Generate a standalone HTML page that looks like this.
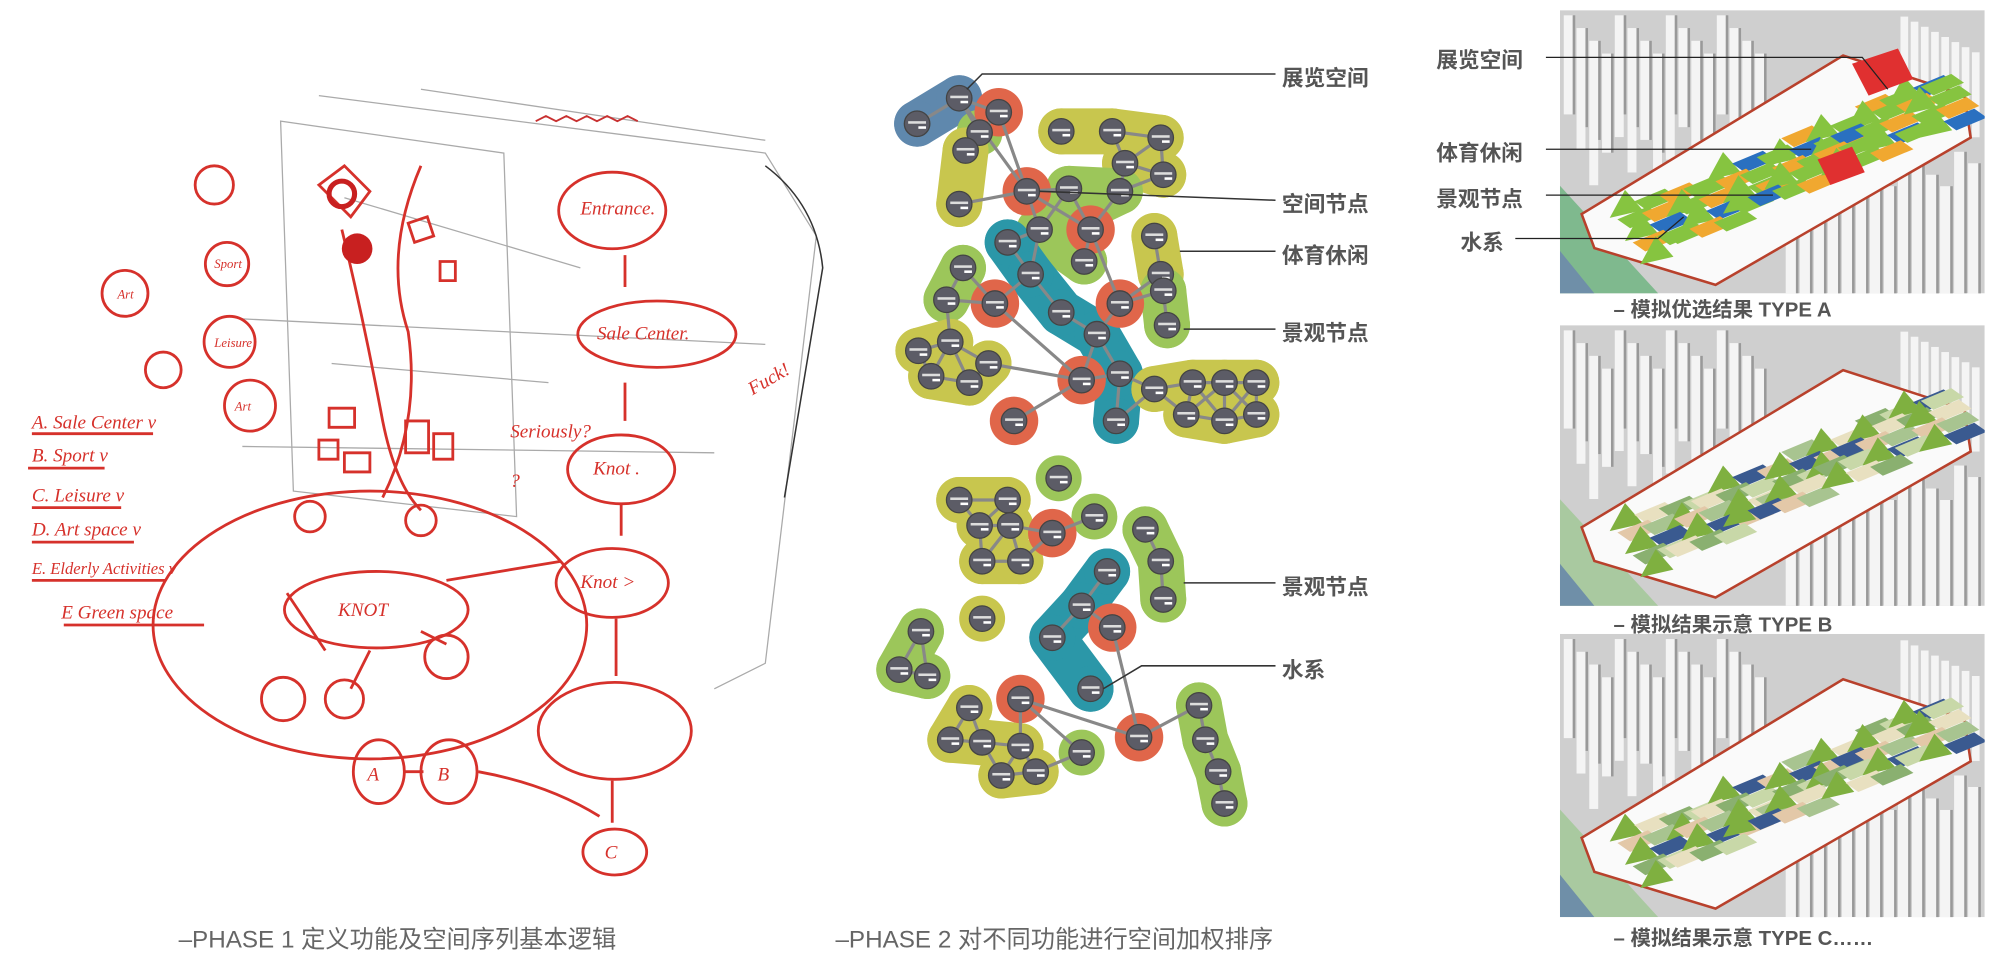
<!DOCTYPE html>
<html><head><meta charset="utf-8"><style>
html,body{margin:0;padding:0;background:#fff;overflow:hidden}
#w{width:1568px;height:752px;transform:scale(1.27551);transform-origin:0 0;position:relative;font-family:"Liberation Sans","Noto Sans CJK SC",sans-serif}
.t{position:absolute;color:#555;font-weight:bold;font-size:17px;white-space:nowrap}
.cap{position:absolute;color:#666;font-size:19px;white-space:nowrap}
svg{position:absolute;left:0;top:0}
</style></head><body><div id="w">
<svg width="1568" height="752" viewBox="0 0 1568 752">
<g fill="none" stroke="#aaa" stroke-width="1">
<path d="M220 95 L395 120 L405 405 L230 385 Z"/>
<path d="M250 75 L600 120 L640 185 L600 520 L560 540"/>
<path d="M330 70 L600 110"/>
<path d="M190 250 L600 270 M190 350 L560 355"/>
<path d="M270 155 L455 210 M260 285 L430 300"/>
</g>
<path d="M600 130 Q640 160 645 210 L615 390" stroke="#333" fill="none" stroke-width="1.2"/>
<g fill="none" stroke="#d6312b" stroke-width="2.2">
<ellipse cx="480" cy="165" rx="42" ry="30"/>
<ellipse cx="515" cy="262" rx="62" ry="26"/>
<ellipse cx="487" cy="368" rx="42" ry="27"/>
<ellipse cx="480" cy="457" rx="44" ry="27"/>
<ellipse cx="482" cy="573" rx="60" ry="38"/>
<ellipse cx="295" cy="478" rx="72" ry="30"/>
<ellipse cx="290" cy="490" rx="170" ry="105"/>
<circle cx="168" cy="145" r="15"/><circle cx="178" cy="207" r="17"/><circle cx="180" cy="268" r="20"/><circle cx="196" cy="318" r="20"/>
<circle cx="98" cy="230" r="18"/><circle cx="128" cy="290" r="14"/>
<circle cx="222" cy="548" r="17"/><circle cx="270" cy="548" r="15"/><circle cx="350" cy="515" r="17"/>
<circle cx="243" cy="405" r="12"/><circle cx="330" cy="408" r="12"/>
<ellipse cx="297" cy="605" rx="20" ry="25"/><ellipse cx="352" cy="605" rx="22" ry="25"/><ellipse cx="482" cy="668" rx="25" ry="18"/>
<path d="M317 605 L332 605 M375 605 Q430 615 470 640"/>
<path d="M268 180 Q285 250 300 330 Q310 380 330 400 M330 130 Q300 200 320 260 Q330 330 300 390"/>
<path d="M490 200 L490 225 M490 300 L490 330 M487 395 L487 420 M483 485 L483 530 M480 612 L480 645"/>
<path d="M250 145 l20 -15 l20 20 l-15 20 z M320 175 l15 -5 l5 15 l-15 5 z M345 205 l12 0 l0 15 l-12 0 z"/>
<path d="M258 320 h20 v15 h-20z M250 345 h15 v15 h-15z M270 355 h20 v15 h-20z M318 330 h18 v25 h-18z M340 340 h15 v20 h-15z"/>
<path d="M350 455 L440 440 M225 465 L255 510 M290 510 L275 540 M330 495 L350 505"/>
<path d="M25 340 h95 M22 367 h60 M25 398 h70 M25 425 h80 M25 455 h105 M50 490 h110"/>
</g>
<circle cx="280" cy="195" r="12" fill="#c82020"/>
<circle cx="268" cy="152" r="10" fill="none" stroke="#c82020" stroke-width="4"/>
<path d="M420 95 l8 -4 8 4 8 -4 8 4 8 -4 8 4 8 -4 8 4 8 -4 8 4" stroke="#c83030" fill="none" stroke-width="1.5"/>
<g font-family="Liberation Serif,serif" font-style="italic" fill="#d6312b" font-size="15">
<text x="455" y="168">Entrance.</text><text x="468" y="266">Sale Center.</text><text x="465" y="372">Knot .</text><text x="455" y="461">Knot &gt;</text>
<text x="265" y="483">KNOT</text><text x="400" y="343">Seriously?</text><text x="400" y="382">?</text>
<text x="590" y="310" transform="rotate(-30 590 310)">Fuck!</text>
<text x="25" y="336">A. Sale Center v</text><text x="25" y="362">B. Sport v</text><text x="25" y="393">C. Leisure v</text>
<text x="25" y="420">D. Art space v</text><text x="25" y="450" font-size="13">E. Elderly Activities v</text><text x="48" y="485">E Green space</text>
<text x="288" y="612">A</text><text x="343" y="612">B</text><text x="474" y="673">C</text>
<text x="92" y="234" font-size="10">Art</text><text x="168" y="210" font-size="10">Sport</text><text x="168" y="272" font-size="10">Leisure</text><text x="184" y="322" font-size="10">Art</text>
</g>
</svg>

<svg width="1568" height="752" viewBox="0 0 1568 752" id="g"></svg>

<div class="t" style="left:1005px;top:47px">展览空间</div>
<div class="t" style="left:1005px;top:146px">空间节点</div>
<div class="t" style="left:1005px;top:186px">体育休闲</div>
<div class="t" style="left:1005px;top:247px">景观节点</div>
<div class="t" style="left:1005px;top:446px">景观节点</div>
<div class="t" style="left:1005px;top:511px">水系</div>
<div class="t" style="left:1126px;top:33px">展览空间</div>
<div class="t" style="left:1126px;top:106px">体育休闲</div>
<div class="t" style="left:1126px;top:142px">景观节点</div>
<div class="t" style="left:1145px;top:176px">水系</div>
<div class="cap" style="left:140px;top:722px">–PHASE 1 定义功能及空间序列基本逻辑</div>
<div class="cap" style="left:655px;top:722px">–PHASE 2 对不同功能进行空间加权排序</div>
<div class="cap" style="left:1265px;top:229px;font-size:16px;color:#555;font-weight:bold">– 模拟优选结果 TYPE A</div>
<div class="cap" style="left:1265px;top:476px;font-size:16px;color:#555;font-weight:bold">– 模拟结果示意 TYPE B</div>
<div class="cap" style="left:1265px;top:722px;font-size:16px;color:#555;font-weight:bold">– 模拟结果示意 TYPE C……</div>
</div>
<script>
const N='http://www.w3.org/2000/svg';const g=document.getElementById('g');
function el(t,a,p){const e=document.createElementNS(N,t);for(const k in a)e.setAttribute(k,a[k]);(p||g).appendChild(e);return e;}
const C={b:'#5f88ad',r:'#e0664a',g:'#9cc65a',y:'#c8c64e',t:'#2b97a8'};
const groups=[
['b',[[752,77],[719,97]]],
['g',[[768,104]]],
['y',[[832,103],[872,103],[910,108],[882,128],[912,137]]],
['g',[[838,148],[878,150],[815,180],[850,205]]],
['y',[[757,118],[752,160]]],
['t',[[790,190],[808,215],[832,245],[860,262],[878,293],[875,330]]],
['g',[[755,210],[742,235]]],
['y',[[905,185],[910,215]]],['g',[[912,228],[915,255]]],
['y',[[720,275],[745,268],[730,295],[760,300],[775,285]]],
['y',[[905,305],[935,300],[960,300],[985,300],[930,325],[960,330],[985,325]]],
['g',[[830,375]]],
['y',[[752,392],[790,392],[768,412],[792,412],[770,440],[800,440]]],
['g',[[858,405]]],['g',[[898,415],[910,440],[912,470]]],
['t',[[868,448],[848,475],[825,500],[855,540]]],
['g',[[722,495],[705,525],[727,530]]],
['y',[[760,555],[745,580],[770,582],[800,585],[785,608],[812,605]]],
['g',[[848,590]]],['g',[[940,553],[945,580],[955,605],[960,630]]],['y',[[770,485]]]
];
const reds=[[783,88],[805,150],[855,180],[780,238],[878,238],[848,298],[795,330],[825,418],[872,492],[800,548],[893,578]];
const all=[];groups.forEach(([c,p])=>p.forEach(q=>all.push(q)));reds.forEach(q=>all.push(q));
groups.forEach(([c,p])=>{const col=C[c];
 if(p.length>1){let d='M'+p.map(q=>q.join(' ')).join(' L');
  el('path',{d,stroke:col,'stroke-width':36,fill:'none','stroke-linecap':'round','stroke-linejoin':'round'});}
 p.forEach(q=>el('circle',{cx:q[0],cy:q[1],r:18,fill:col}));});
reds.forEach(q=>el('circle',{cx:q[0],cy:q[1],r:19,fill:C.r}));
for(let i=0;i<all.length;i++)for(let j=i+1;j<all.length;j++){const dx=all[i][0]-all[j][0],dy=all[i][1]-all[j][1];const d=Math.hypot(dx,dy);if(d<40&&d>5)el('line',{x1:all[i][0],y1:all[i][1],x2:all[j][0],y2:all[j][1],stroke:'#888','stroke-width':2.5});}
[[805,150,752,77],[805,150,783,88],[805,150,752,160],[805,150,855,180],[855,180,878,238],[780,238,848,298],[848,298,795,330],[848,298,775,285],[825,418,800,440],[872,492,893,578],[800,548,893,578],[800,548,848,590],[893,578,940,553]].forEach(a=>el('line',{x1:a[0],y1:a[1],x2:a[2],y2:a[3],stroke:'#888','stroke-width':2.5}));
all.forEach(q=>{el('circle',{cx:q[0],cy:q[1],r:10,fill:'#5c5c66',stroke:'#444','stroke-width':1});el('rect',{x:q[0]-7,y:q[1]-2,width:14,height:2,fill:'#ddd'});el('rect',{x:q[0]+1,y:q[1]+2,width:6,height:2,fill:'#fff'});});
[[758,70,770,58,1000,58],[815,150,1000,157],[925,197,1000,197],[928,258,1000,258],[928,457,1000,457],[865,540,895,522,1000,522]].forEach(a=>{let pts='';for(let i=0;i<a.length;i+=2)pts+=a[i]+','+a[i+1]+' ';el('polyline',{points:pts,fill:'none',stroke:'#333','stroke-width':1.2});});
const defs=el('defs',{});
function img(y0,h,type,id){
 const cp=el('clipPath',{id:id},defs);el('rect',{x:1223,y:y0,width:333,height:h},cp);
 const P=el('g',{'clip-path':`url(#${id})`});
 el('rect',{x:1223,y:y0,width:333,height:h,fill:'#cfcfcf'},P);
 for(let i=0;i<16;i++){el('rect',{x:1226+i*10,y:y0+4+(i%4)*10,width:7,height:h*(0.35+(i%3)*0.08),fill:'#f4f4f4'},P);el('rect',{x:1233+i*10,y:y0+4+(i%4)*10,width:2,height:h*0.35,fill:'#999'},P);}
 for(let i=0;i<14;i++){el('rect',{x:1400+i*11,y:y0+h*0.5+(i%4)*9,width:8,height:h*0.5,fill:'#f4f4f4'},P);el('rect',{x:1408+i*11,y:y0+h*0.5+(i%4)*9,width:2,height:h*0.5,fill:'#999'},P);}
 for(let i=0;i<8;i++){el('rect',{x:1490+i*8,y:y0+5+i*4,width:6,height:h*0.3,fill:'#f4f4f4'},P);}
 el('polygon',{points:`1223,${y0+h*0.62} 1223,${y0+h} 1300,${y0+h}`,fill:type=='A'?'#7fb98e':'#a9c9a0'},P);
 el('polygon',{points:`1223,${y0+h*0.85} 1223,${y0+h} 1250,${y0+h}`,fill:'#6f8fa8'},P);
 el('polygon',{points:`1240,${y0+h*0.72} 1445,${y0+h*0.16} 1540,${y0+h*0.3} 1545,${y0+h*0.45} 1345,${y0+h*0.97} 1250,${y0+h*0.84}`,fill:'#fafafa',stroke:'#b8412c','stroke-width':2},P);
 const colsA=['#f2d43a','#f0a830','#86c440','#2a70c0','#f2d43a','#86c440','#f0a830','#86c440'];
 const colsB=['#dcd8b0','#a8c490','#e3c8a8','#3a5a90','#a05050','#c8d8a8','#8ab070','#e8e0c0'];
 const cs=type=='A'?colsA:colsB;
 for(let i=0;i<70;i++){const t=(i%14)/14, r=Math.floor(i/14)/5;
  const x=1262+t*255+r*20+((i*37)%12);const y=y0+h*(0.72-t*0.5+r*0.16)+((i*53)%10)-5;
  const c=cs[(i*7)%cs.length];
  if(i%4==0){el('polygon',{points:`${x},${y+8} ${x+12},${y-14} ${x+26},${y+2}`,fill:type=='A'?'#86c440':'#7fb040'},P);}
  else el('polygon',{points:`${x},${y} ${x+24},${y-10} ${x+34},${y-3} ${x+10},${y+7}`,fill:c},P);}
 if(type=='A'){el('polygon',{points:'1452,50 1488,38 1500,62 1465,75',fill:'#e03030'},P);el('polygon',{points:'1425,125 1452,115 1462,135 1435,145',fill:'#e03030'},P);}
}
img(8,222,'A','c1');img(255,220,'B','c2');img(497,222,'C','c3');
[[1212,45,1460,45,1480,70],[1212,117,1420,117],[1212,153,1390,153],[1188,187,1300,187,1320,170]].forEach(a=>{let pts='';for(let i=0;i<a.length;i+=2)pts+=a[i]+','+a[i+1]+' ';el('polyline',{points:pts,fill:'none',stroke:'#222','stroke-width':1});});
</script>
</body></html>
